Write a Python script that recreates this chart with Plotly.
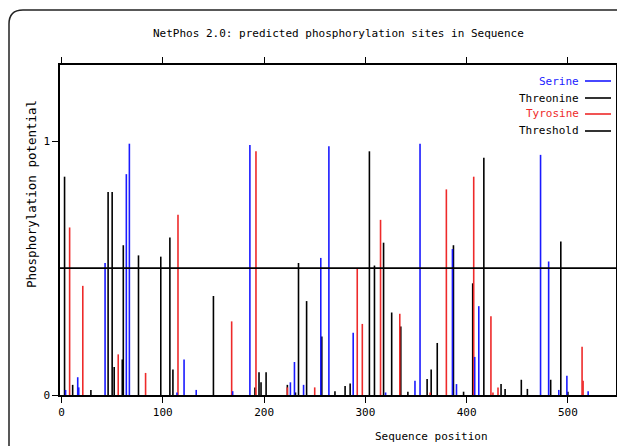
import plotly.graph_objects as go

# ---- data ----
serine_pos = [4, 17, 16, 43, 64, 67, 114, 121, 133, 169, 186, 226, 230, 239, 256, 264, 288, 320,
              349, 354, 386, 390, 408, 412, 473, 481, 491, 499, 520]
serine_val = [0.02, 0.03, 0.07, 0.52, 0.87, 0.99, 0.01, 0.14, 0.02, 0.015, 0.985, 0.05, 0.13, 0.04,
              0.54, 0.98, 0.245, 0.01, 0.056, 0.99, 0.575, 0.043, 0.15, 0.35, 0.946, 0.526, 0.02, 0.076, 0.015]

threonine_pos = [3, 11, 29, 46, 50, 52, 60, 61, 76, 98, 107, 110, 150, 191, 195, 197, 202, 223, 231,
                 234, 242, 257, 270, 280, 285, 304, 309, 318, 326, 335, 342, 361, 365, 371, 387, 397,
                 406, 417, 434, 438, 454, 460, 483, 493, 500]
threonine_val = [0.86, 0.04, 0.02, 0.80, 0.80, 0.11, 0.14, 0.59, 0.55, 0.545, 0.62, 0.10, 0.39, 0.03,
                 0.09, 0.05, 0.09, 0.04, 0.01, 0.52, 0.37, 0.23, 0.015, 0.035, 0.045, 0.96, 0.51, 0.60,
                 0.325, 0.27, 0.013, 0.063, 0.10, 0.205, 0.59, 0.013, 0.44, 0.935, 0.043, 0.024, 0.06,
                 0.024, 0.06, 0.605, 0.013]

tyrosine_pos = [8, 21, 56, 83, 115, 168, 192, 223, 250, 292, 297, 315, 334, 364, 380, 407, 424, 426,
                431, 514, 515]
tyrosine_val = [0.66, 0.43, 0.16, 0.087, 0.71, 0.29, 0.96, 0.03, 0.03, 0.50, 0.28, 0.69, 0.32, 0.01,
                0.81, 0.86, 0.31, 0.01, 0.03, 0.19, 0.056]

threshold = 0.5
x_ticks = [0, 100, 200, 300, 400, 500]
y_ticks = [0, 1]
x_range = [-1.5, 547.5]
y_range = [0, 1.3]

FONT = "DejaVu Sans Mono"
BLUE = "#1a1aff"
RED = "#ee2a2a"
BLACK = "#000000"


def sticks(pos, val):
    xs, ys = [], []
    for p, v in zip(pos, val):
        xs += [p, p, None]
        ys += [0, v, None]
    return xs, ys


fig = go.Figure()
for pos, val, col, name in [(threonine_pos, threonine_val, BLACK, "Threonine"),
                            (tyrosine_pos, tyrosine_val, RED, "Tyrosine"),
                            (serine_pos, serine_val, BLUE, "Serine")]:
    xs, ys = sticks(pos, val)
    fig.add_trace(go.Scatter(x=xs, y=ys, mode="lines", name=name,
                             line=dict(color=col, width=1.6), showlegend=False,
                             hoverinfo="skip"))

fig.add_trace(go.Scatter(x=x_range, y=[threshold, threshold], mode="lines", name="Threshold",
                         line=dict(color=BLACK, width=1.8), showlegend=False))

axis_common = dict(showgrid=False, zeroline=False, showline=True, linecolor="black",
                   linewidth=1.5, ticks="outside", ticklen=6, tickwidth=1.2, tickcolor="black",
                   mirror="ticks", automargin=False,
                   tickfont=dict(family=FONT, size=11, color="black"))

fig.update_xaxes(range=x_range, tickvals=x_ticks, ticktext=[str(t) for t in x_ticks], **axis_common)
fig.update_yaxes(range=y_range, tickvals=y_ticks, ticktext=[str(t) for t in y_ticks], **axis_common)

# page-pixel -> paper helpers (plot area spans page x 60..616, y 65..395)
PW = 556
PH = 330


def px(xp):
    return (xp - 60) / PW


def py(yp):
    return (395 - yp) / PH


# legend drawn manually (text right, line sample on the right)
leg = [("Serine", BLUE, BLUE, 81), ("Threonine", BLACK, BLACK, 98),
       ("Tyrosine", RED, RED, 114), ("Threshold", BLACK, BLACK, 131)]
annotations = []
shapes = []
for txt, tcol, lcol, yp in leg:
    annotations.append(dict(x=px(581), y=py(yp), xref="paper", yref="paper", text=txt, showarrow=False,
                            xanchor="right", yanchor="middle",
                            font=dict(family=FONT, size=11, color=tcol)))
    shapes.append(dict(type="line", xref="paper", yref="paper", x0=px(585), x1=px(611),
                       y0=py(yp), y1=py(yp), line=dict(color=lcol, width=1.6)))

annotations.append(dict(x=px(432), y=py(436), xref="paper", yref="paper",
                        text="Sequence position", showarrow=False, xanchor="center", yanchor="middle",
                        font=dict(family=FONT, size=11, color="black")))
annotations.append(dict(x=px(31), y=py(194), xref="paper", yref="paper",
                        text="Phosphorylation potential", showarrow=False, textangle=-90,
                        xanchor="center", yanchor="middle",
                        font=dict(family=FONT, size=12.5, color="black")))
annotations.append(dict(x=px(338), y=py(33), xref="paper", yref="paper",
                        text="NetPhos 2.0: predicted phosphorylation sites in Sequence", showarrow=False,
                        xanchor="center", yanchor="middle",
                        font=dict(family=FONT, size=11, color="black")))

# outer rounded frame (page decoration)
path = (f"M {px(9)},{py(460)} L {px(9)},{py(24)} Q {px(9)},{py(10)} {px(23)},{py(10)} "
        f"L {px(640)},{py(10)}")
shapes.append(dict(type="path", xref="paper", yref="paper", path=path,
                   line=dict(color="#222222", width=1.5)))

# the page body adds an 8px offset; figure sized so the plot lands where the reference has it
fig.update_layout(width=617, height=438, margin=dict(l=52, r=9, t=57, b=51, autoexpand=False),
                  plot_bgcolor="white", paper_bgcolor="white",
                  annotations=annotations, shapes=shapes, showlegend=False)

fig.write_html("out.html")
